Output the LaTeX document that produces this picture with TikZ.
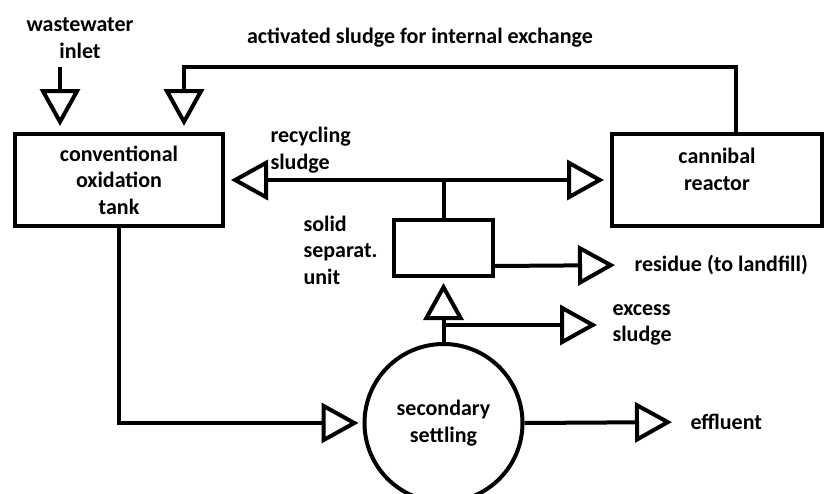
\documentclass[tikz,border=0pt]{standalone}
\usepackage{fontspec}
\setmainfont{Carlito}
\usetikzlibrary{arrows.meta,calc,positioning}

\tikzset{
  unit/.style={draw, rectangle, line width=4pt},
  pipe/.style={line width=4pt},
  flow/.style={pipe, -{Triangle[open, length=37pt, width=40pt]}, shorten >=6pt},
}

\begin{document}
\begin{tikzpicture}[x=1pt, y=-1pt, font=\bfseries\fontsize{22}{26.5}\selectfont]
\useasboundingbox (0,0) rectangle (825,493);

% process units
\node[unit, minimum width=208pt, minimum height=92pt, align=center] (tank) at (119,180) {conventional\\oxidation\\tank};
\node[unit, minimum width=210pt, minimum height=92pt] (reactor) at (717,180) {};
\node[align=center, below=13pt of reactor.north] (reactorname) {cannibal\\reactor};
\node[unit, minimum width=99pt, minimum height=56pt] (sep) at (443.5,248) {};
\node[draw, circle, line width=4pt, minimum size=158pt, align=center] (settle) at (443.5,423) {secondary\\settling};

% labels
\node[align=center] (inlet) at (80,38) {wastewater\\inlet};
\node (exchange) at (420,38) {activated sludge for internal exchange};
\node[anchor=west, align=left] (recycle) at (267,150) {recycling\\sludge};
\node[anchor=west, align=left] (sepname) at (300,250) {solid\\separat.\\unit};
\node[anchor=west] (residue) at (631,265) {residue (to landfill)};
\node[anchor=west, align=left] (excess) at (609,325) {excess\\sludge};
\node[anchor=west] (effluent) at (687,422) {effluent};

% inlet and internal exchange
\coordinate (inflow) at (60,67);
\coordinate (loop) at (184,67);
\draw[flow] (inflow) -- (inflow |- tank.north);
\draw[flow] ([xshift=19pt]reactor.north) |- (loop) -- (loop |- tank.north);

% recycling sludge
\coordinate (split) at (sep.north |- tank.east);
\draw[pipe] (sep.north) -- (split);
\draw[flow] (split) -- (tank.east);
\draw[flow] (split) -- (reactor.west);

% separation unit
\draw[flow, shorten >=16pt] ($(sep.south east)!0.2!(sep.north east)$) -- (residue.west);
\coordinate (branch) at (settle.north |- excess.west);
\draw[flow, shorten >=5pt] (settle.north) -- (sep.south);
\draw[flow, shorten >=12pt] (branch) -- (excess.west);

% settling
\draw[flow, shorten >=4pt] (tank.south) |- (settle.west);
\draw[flow, shorten >=15pt] (settle.east) -- (effluent.west);
\end{tikzpicture}
\end{document}
